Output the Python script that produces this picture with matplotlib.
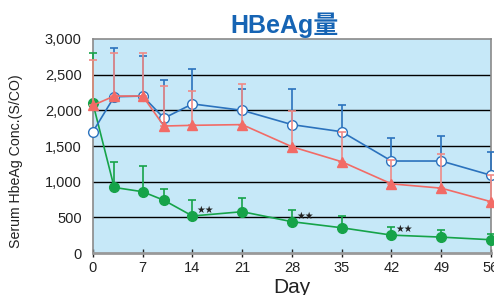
import matplotlib
matplotlib.use('Agg')
import matplotlib.pyplot as plt
import numpy as np

plt.rcParams['font.family'] = ['Liberation Sans', 'Noto Sans CJK JP', 'DejaVu Sans']

# days of measurement
days = [0, 3, 7, 10, 14, 21, 28, 35, 42, 49, 56]

# blue series (open circles)
blue_mean = [1700, 2190, 2200, 1890, 2090, 2000, 1800, 1700, 1290, 1290, 1090]
blue_top = [1700, 2870, 2760, 2420, 2580, 2300, 2300, 2070, 1610, 1640, 1410]

# red series (triangles)
red_mean = [2070, 2200, 2200, 1780, 1790, 1800, 1490, 1280, 970, 910, 720]
red_top = [2710, 2800, 2800, 2340, 2270, 2370, 1990, 1690, 1300, 1390, 1090]

# green series (filled circles)
green_mean = [2100, 920, 860, 740, 520, 580, 440, 355, 252, 224, 187]
green_top = [2800, 1280, 1225, 900, 745, 770, 600, 520, 370, 318, 270]

star_days = [14, 28, 42, 56]

xticks = [0, 7, 14, 21, 28, 35, 42, 49, 56]
yticks = [0, 500, 1000, 1500, 2000, 2500, 3000]

BLUE = '#2b72bd'
RED = '#f26b66'
GREEN = '#16a349'

fig = plt.figure(figsize=(4.94, 2.95), dpi=100)
ax = fig.add_axes([0.188, 0.142, 0.806, 0.726])
ax.set_facecolor('#c6e8f8')

for yv in yticks[1:-1]:
    ax.axhline(yv, color='black', lw=1.0, zorder=1)


def draw(mean, top, color, marker, mfc, ms, z, ecolor):
    mean = np.array(mean)
    up = np.array(top) - mean
    ax.errorbar(days, mean, yerr=[np.zeros_like(up), up], fmt='none',
                ecolor=ecolor, elinewidth=1.2, capsize=3, capthick=1.2,
                zorder=z, clip_on=False)
    ax.plot(days, mean, color=color, lw=1.2, marker=marker, ms=ms,
            mfc=mfc, mec=color, mew=1.0, zorder=z + 0.5, clip_on=False)


draw(green_mean, green_top, GREEN, 'o', GREEN, 7, 3, GREEN)
draw(blue_mean, blue_top, BLUE, 'o', 'white', 7, 4, BLUE)
draw(red_mean, red_top, RED, '^', RED, 7, 5, '#f08a86')

for d in star_days:
    i = days.index(d)
    ax.annotate('★★', (d, green_mean[i]), xytext=(3, 2),
                textcoords='offset points', fontsize=7, color='#222222',
                family=['DejaVu Sans'], zorder=6, annotation_clip=False)

ax.set_xlim(0, 56)
ax.set_ylim(0, 3000)
ax.set_xticks(xticks)
ax.set_yticks(yticks)
ax.set_yticklabels([f'{v:,}' for v in yticks])
ax.tick_params(axis='x', direction='inout', length=6, width=1, color='#222222',
               labelsize=10.5, pad=3, labelcolor='#222222')
ax.tick_params(axis='y', length=0, labelsize=10.5, pad=8, labelcolor='#222222')

for s in ['left', 'top', 'right']:
    ax.spines[s].set_color('#8a8a8a')
    ax.spines[s].set_linewidth(1.2)
ax.spines['bottom'].set_color('#999999')
ax.spines['bottom'].set_linewidth(2)

ax.set_ylabel('Serum HbeAg Conc.(S/CO)', fontsize=10.2,
              family=['Liberation Sans Narrow', 'Liberation Sans'],
              color='#222222')
ax.yaxis.set_label_coords(-0.175, 0.43)
ax.set_xlabel('Day', fontsize=15, color='#222222', labelpad=2)

fig.text(0.575, 0.915, 'HBeAg量', fontsize=18, fontweight='bold',
         color='#1664b4', ha='center', va='center')

fig.savefig('out.png', dpi=100)
